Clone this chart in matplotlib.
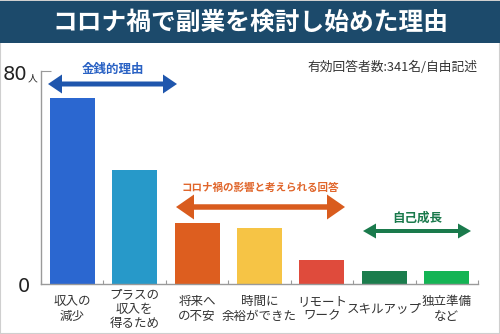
import matplotlib
matplotlib.use("Agg")
import matplotlib.pyplot as plt
from matplotlib.patches import Polygon, Rectangle

plt.rcParams['font.family'] = ['Noto Sans CJK JP', 'DejaVu Sans']

# data
categories = ['収入の\n減少', 'プラスの\n収入を\n得るため', '将来へ\nの不安', '時間に\n余裕ができた',
              'リモート\nワーク', 'スキルアップ', '独立準備\nなど']
counts = [70, 43, 23, 21, 9, 5, 5]
bar_colors = ['#2b67d0', '#2799c9', '#dd5e1f', '#f6c445', '#df4b3c', '#1b7d4d', '#14b454']

# groups: (label, first index, last index, colour, text colour)
groups = [
    ('金銭的理由', 0, 1, '#1f56ad', '#2a62c4'),
    ('コロナ禍の影響と考えられる回答', 2, 4, '#d95c1e', '#e0652a'),
    ('自己成長', 5, 6, '#1a7a4c', '#1a7a4c'),
]

W, H = 500, 334
fig = plt.figure(figsize=(W / 100, H / 100), dpi=100)
fig.patch.set_facecolor('white')


def fx(x):
    return x / W


def fy(y):
    return 1 - y / H


# frame and title band
fig.patches.append(Rectangle((0, 0), 1, 1, transform=fig.transFigure, fill=False,
                             ec='#cfcfcf', lw=1.5))
fig.patches.append(Rectangle((0, fy(43)), 1, (43 - 1) / H, transform=fig.transFigure,
                             fc='#1c4a6b', ec='none'))
fig.text(0.5, fy(23), 'コロナ禍で副業を検討し始めた理由', color='white', fontsize=17.8,
         fontweight='bold', ha='center', va='center')
fig.text(fx(477), fy(67), '有効回答者数:341名/自由記述', color='#333333', fontsize=9.2,
         ha='right', va='center')

ax = fig.add_axes([fx(41), fy(284), fx(478 - 41), (284 - 71) / H])
x = list(range(len(categories)))
ax.bar(x, counts, width=0.72, color=bar_colors)
ax.set_xlim(-0.5, len(categories) - 0.5)
ax.set_ylim(0, 80)
for s in ('top', 'right'):
    ax.spines[s].set_visible(False)
for s in ('left', 'bottom'):
    ax.spines[s].set_color('#9a9a9a')
    ax.spines[s].set_linewidth(1)
ax.set_xticks([i + 0.5 for i in range(-1, len(categories))])
ax.set_xticklabels([])
ax.tick_params(axis='x', direction='in', length=3, color='#9a9a9a')
ax.set_yticks([80])
ax.set_yticklabels([])
ax.tick_params(axis='y', direction='in', length=7, color='#9a9a9a')

for i, lab in enumerate(categories):
    ax.text(i, -25 / 213, lab, transform=ax.get_xaxis_transform(), ha='center', va='center',
            fontsize=9, color='#333333', linespacing=1.15)

fig.text(fx(30), fy(287), '0', fontsize=14, ha='right', va='center', color='#222222',
         family='DejaVu Sans')
fig.text(fx(27), fy(74), '80', fontsize=14, ha='right', va='center', color='#222222',
         family='DejaVu Sans')
fig.text(fx(28), fy(78), '人', fontsize=7, ha='left', va='center', color='#222222')


def double_arrow(x0, x1, yp, head_len, head_h, shaft, color):
    # x0/x1/yp in figure pixels from top-left
    hs, hh = shaft / 2, head_h / 2
    pts = [(x0, yp), (x0 + head_len, yp - hh), (x0 + head_len, yp - hs),
           (x1 - head_len, yp - hs), (x1 - head_len, yp - hh), (x1, yp),
           (x1 - head_len, yp + hh), (x1 - head_len, yp + hs),
           (x0 + head_len, yp + hs), (x0 + head_len, yp + hh)]
    fig.patches.append(Polygon([(fx(a), fy(b)) for a, b in pts], closed=True,
                               transform=fig.transFigure, fc=color, ec='none'))


arrow_geom = [(48, 177, 84, 14, 19, 5, 70, 9), (176, 345, 207, 18, 25, 5.5, 188, 7.6),
              (363, 471, 231, 13, 15, 4, 218, 9)]
for (lab, a, b, col, tcol), (x0, x1, yp, hl, hh, sh, ty, fs) in zip(groups, arrow_geom):
    double_arrow(x0, x1, yp, hl, hh, sh, col)
    fig.text(fx((x0 + x1) / 2), fy(ty), lab, color=tcol, fontsize=fs, fontweight='bold',
             ha='center', va='center')

fig.savefig('out.png', dpi=100)
